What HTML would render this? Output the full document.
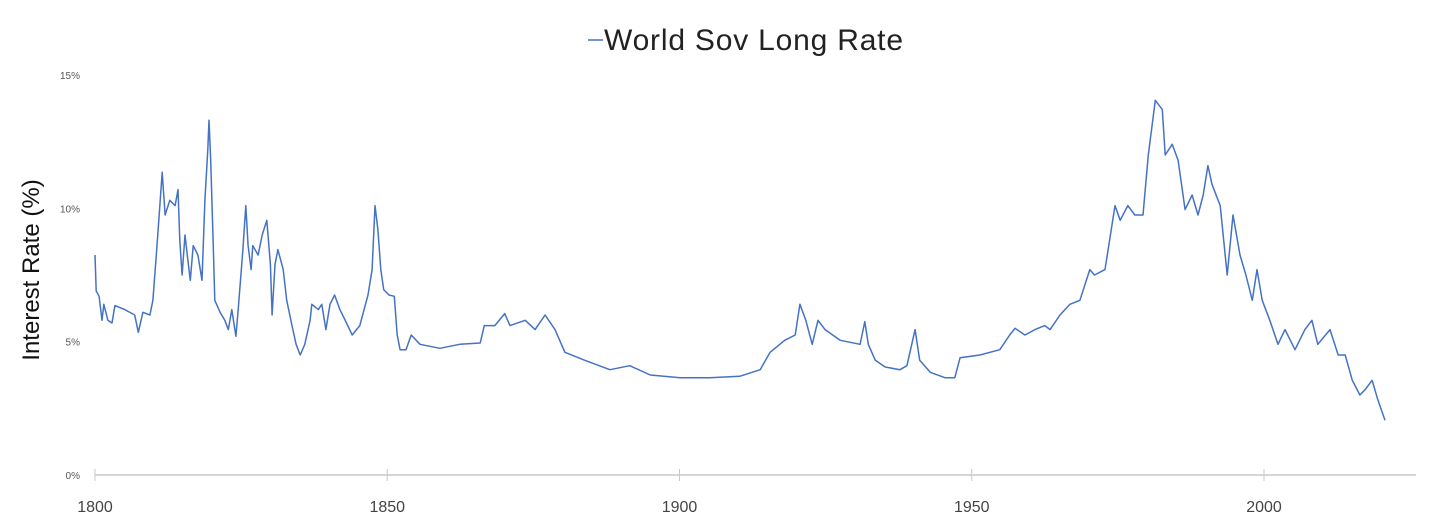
<!DOCTYPE html>
<html><head><meta charset="utf-8"><style>
body{margin:0;background:#fff;}
svg{display:block;font-family:"Liberation Sans",sans-serif;}
</style></head><body>
<svg width="1456" height="523" id="chart">
<g>
<line x1="588" y1="40" x2="603" y2="40" stroke="#4472c4" stroke-width="1.5"/>
<text x="604" y="50" font-size="30" letter-spacing="0.8" fill="#222">World Sov Long Rate</text>
</g>
<text transform="translate(39,270) rotate(-90)" text-anchor="middle" font-size="24" fill="#111">Interest Rate (%)</text>
<g id="axes"></g>
<path id="series" fill="none" stroke="#4472c4" stroke-width="1.5" stroke-linejoin="round"/>
</svg>
<script>
const years=[1800,1800.2,1800.7,1801.2,1801.5,1802.2,1802.9,1803.4,1805.1,1806.8,1807.4,1808.2,1809.4,1809.9,1810.6,1811.5,1812,1812.8,1813.7,1814.2,1814.5,1814.9,1815.4,1815.9,1816.3,1816.8,1817.6,1818.3,1818.8,1819.3,1819.5,1819.8,1820.2,1820.5,1821.4,1822.2,1822.8,1823.4,1824.1,1824.5,1825.3,1825.8,1826.2,1826.7,1827,1827.9,1828.6,1829.4,1830,1830.3,1830.8,1831.3,1832.2,1832.8,1833.7,1834.4,1835.1,1835.9,1836.8,1837.1,1838.2,1838.8,1839.5,1840.2,1841,1841.9,1842.8,1844,1845.3,1846.7,1847.4,1847.9,1848.4,1848.9,1849.4,1850.3,1851.2,1851.7,1852.2,1853.2,1854.1,1855.6,1859,1862.4,1865.9,1866.6,1868.4,1870.1,1871,1873.6,1875.3,1877,1878.7,1880.4,1883.8,1888.1,1891.5,1895,1900.1,1905.2,1910.3,1913.8,1915.5,1918,1919.8,1920.6,1921.6,1922.7,1923.7,1924.9,1927.5,1930.9,1931.7,1932.3,1933.5,1935.2,1937.7,1938.9,1940.3,1941.1,1942.9,1945.4,1947.1,1948,1951.4,1954.8,1956.5,1957.4,1959.1,1960.8,1962.5,1963.4,1965.1,1966.8,1968.5,1970.2,1971,1972.8,1974.5,1975.4,1976.7,1977.9,1979.3,1980.2,1981.4,1982.6,1983.1,1984.3,1985.3,1986.5,1987.7,1988.7,1989.6,1990.4,1991.1,1992.5,1993.7,1994.7,1995.9,1996.9,1998,1998.8,1999.7,2001,2002.4,2003.6,2005.3,2007,2008.2,2009.2,2011.3,2012.7,2013.9,2015.1,2016.4,2017.3,2018.5,2019.5,2020.7];
const rates=[8.25,6.9,6.7,5.8,6.4,5.8,5.7,6.35,6.2,6.0,5.35,6.1,6.0,6.55,8.6,11.35,9.75,10.3,10.1,10.7,8.8,7.5,9.0,8.05,7.3,8.6,8.25,7.3,10.3,12.2,13.3,11.8,8.8,6.55,6.1,5.8,5.45,6.2,5.2,6.2,8.45,10.1,8.6,7.7,8.6,8.25,9.0,9.55,7.9,6.0,7.9,8.45,7.7,6.55,5.6,4.9,4.5,4.9,5.8,6.4,6.2,6.4,5.45,6.4,6.75,6.2,5.8,5.25,5.6,6.75,7.7,10.1,9.2,7.7,6.95,6.75,6.7,5.25,4.7,4.7,5.25,4.9,4.75,4.9,4.95,5.6,5.6,6.05,5.6,5.8,5.45,6.0,5.45,4.6,4.3,3.95,4.1,3.75,3.65,3.65,3.7,3.95,4.6,5.05,5.25,6.4,5.8,4.9,5.8,5.45,5.05,4.9,5.75,4.9,4.3,4.05,3.95,4.1,5.45,4.3,3.85,3.65,3.65,4.4,4.5,4.7,5.25,5.5,5.25,5.45,5.6,5.45,6.0,6.4,6.55,7.7,7.5,7.7,10.1,9.55,10.1,9.75,9.75,12.0,14.05,13.7,12.0,12.4,11.8,9.95,10.5,9.75,10.5,11.6,10.9,10.1,7.5,9.75,8.25,7.5,6.55,7.7,6.55,5.8,4.9,5.45,4.7,5.45,5.8,4.9,5.45,4.5,4.5,3.55,3.0,3.2,3.55,2.8,2.05];
const yTicks=[0,5,10,15];
const yTickLabels=["0%","5%","10%","15%"];
const xTicks=[1800,1850,1900,1950,2000];
const xTickLabels=["1800","1850","1900","1950","2000"];
const NS="http://www.w3.org/2000/svg";
const X=y=>95+(y-1800)*5.845;
const Y=v=>475-v*26.67;
const axes=document.getElementById('axes');
function mk(t,a){const e=document.createElementNS(NS,t);for(const k in a)e.setAttribute(k,a[k]);return e;}
const base=mk('line',{x1:95,y1:475,x2:1416,y2:475,stroke:'#c8c8c8','stroke-width':1.5});


axes.appendChild(base);
xTicks.forEach((t,i)=>{
 const l=mk('line',{x1:X(t),y1:469,x2:X(t),y2:481,stroke:'#c8c8c8','stroke-width':1});
 
 
 axes.appendChild(l);
 const tx=mk('text',{x:X(t),y:512,'text-anchor':'middle','font-size':16,fill:'#444'});
 
 
 tx.textContent=xTickLabels[i];axes.appendChild(tx);
});
yTicks.forEach((t,i)=>{
 const tx=mk('text',{x:80,y:Y(t)+4,'text-anchor':'end','font-size':10,fill:'#555'});
 
 
 tx.textContent=yTickLabels[i];axes.appendChild(tx);
});
document.getElementById('series').setAttribute('d',years.map((y,i)=>(i?'L':'M')+X(y).toFixed(1)+','+Y(rates[i]).toFixed(1)).join(''));
</script>
</body></html>
